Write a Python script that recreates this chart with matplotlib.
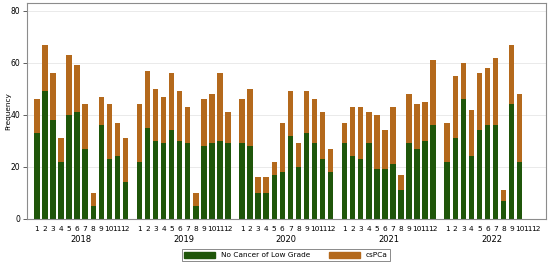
import matplotlib
matplotlib.use("Agg")
import matplotlib.pyplot as plt
from matplotlib.patches import Patch

years = ["2018", "2019", "2020", "2021", "2022"]
months = list(range(1, 13))

# monthly counts per year (2022 has data up to October)
low_grade = {
    "2018": [33, 49, 38, 22, 40, 41, 27, 5, 36, 23, 24, 14],
    "2019": [22, 35, 30, 29, 34, 30, 29, 5, 28, 29, 30, 29],
    "2020": [29, 28, 10, 10, 17, 18, 32, 20, 33, 29, 23, 18],
    "2021": [29, 24, 23, 29, 19, 19, 21, 11, 29, 27, 30, 36],
    "2022": [22, 31, 46, 24, 34, 36, 36, 7, 44, 22],
}
total = {
    "2018": [46, 67, 56, 31, 63, 59, 44, 10, 47, 44, 37, 31],
    "2019": [44, 57, 50, 47, 56, 49, 43, 10, 46, 48, 56, 41],
    "2020": [46, 50, 16, 16, 22, 37, 49, 29, 49, 46, 41, 27],
    "2021": [37, 43, 43, 41, 40, 34, 43, 17, 48, 44, 45, 61],
    "2022": [37, 55, 60, 42, 56, 58, 62, 11, 67, 48],
}

GREEN = "#1f560a"
BROWN = "#b4691c"
YEAR_STEP = 12.75

fig = plt.figure(figsize=(5.5, 2.65), dpi=100)
ax = fig.add_axes([0.049, 0.174, 0.944, 0.815])

tick_pos, tick_lab = [], []
for yi, year in enumerate(years):
    base = yi * YEAR_STEP
    low = low_grade[year]
    cs = [t - g for t, g in zip(total[year], low)]
    xs = [base + i for i in range(len(low))]
    ax.bar(xs, low, width=0.68, color=GREEN, linewidth=0, zorder=2)
    ax.bar(xs, cs, bottom=low, width=0.68, color=BROWN, linewidth=0, zorder=2)
    for m in months:
        tick_pos.append(base + m - 1)
        tick_lab.append(str(m))
    ax.text(base + 5.5, -0.075, year, transform=ax.get_xaxis_transform(),
            ha="center", va="top", fontsize=6)

ax.set_xlim(-1.24, 4 * YEAR_STEP + 11 + 1.3)
ax.set_ylim(0, 83)
ax.set_xticks(tick_pos)
ax.set_xticklabels(tick_lab, fontsize=5.3)
ax.tick_params(axis="x", length=0, pad=5)
ax.set_yticks([0, 20, 40, 60, 80])
ax.tick_params(axis="y", labelsize=5.5, length=3, width=0.6, color="#444444", pad=2)
ax.set_ylabel("Frequency", fontsize=5.3)
ax.yaxis.set_label_coords(-0.030, 0.5)
ax.yaxis.grid(True, color="#e6e6e6", linewidth=0.6, zorder=0)
for s in ax.spines.values():
    s.set_color("#8c8c8c")
    s.set_linewidth(0.8)

handles = [Patch(color=GREEN, label="No Cancer of Low Grade"),
           Patch(color=BROWN, label="csPCa")]
leg = fig.legend(handles=handles, loc="center", bbox_to_anchor=(0.52, 0.037),
                 ncol=2, fontsize=5.3, handlelength=4.2, handleheight=0.9,
                 columnspacing=2.5, handletextpad=0.8, frameon=True,
                 fancybox=False, borderpad=0.35)
leg.get_frame().set_edgecolor("#555555")
leg.get_frame().set_linewidth(0.6)

fig.savefig("out.png", dpi=100)
